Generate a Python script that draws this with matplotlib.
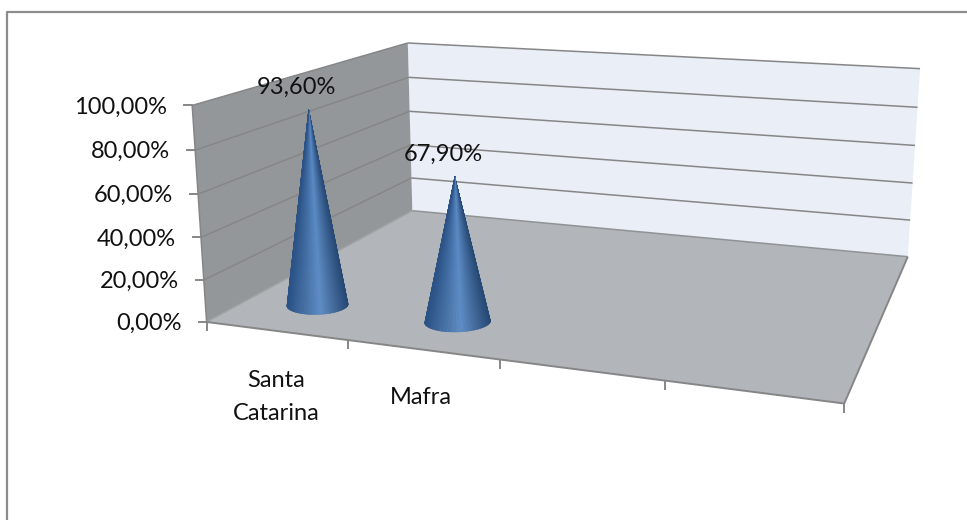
import numpy as np
import matplotlib
matplotlib.use('Agg')
import matplotlib.pyplot as plt
from matplotlib.collections import PolyCollection
from matplotlib.colors import LinearSegmentedColormap

categories = ['Santa\nCatarina', 'Mafra', '', '']
values = [93.6, 67.9]
value_labels = ['93,60%', '67,90%']
axis_values = [0, 20, 40, 60, 80, 100]
axis_labels = ['0,00%', '20,00%', '40,00%', '60,00%', '80,00%', '100,00%']

plt.rcParams['font.family'] = ['Lato', 'DejaVu Sans']
FONT = 17
LINE = '#868686'

# box corners (category, depth, value) and where they land on the canvas
box = [(0, 0, 0), (4, 0, 0), (0, 1, 0), (4, 1, 0), (0, 0, 100), (0, 1, 100), (4, 1, 100)]
canvas = [(207, 322), (844, 404), (412, 211), (908, 256), (192, 105), (408, 43), (920, 69)]


def fit_camera(pts3, pts2):
    rows = []
    rhs = []
    for (a, b, c), (u, v) in zip(pts3, pts2):
        rows.append([a, b, c, 1, 0, 0, 0, 0, -u*a, -u*b, -u*c])
        rows.append([0, 0, 0, 0, a, b, c, 1, -v*a, -v*b, -v*c])
        rhs += [u, v]
    p = np.linalg.lstsq(np.array(rows, float), np.array(rhs, float), rcond=None)[0]
    return np.append(p, 1.0).reshape(3, 4)


cam = fit_camera(box, canvas)


def project(cat, depth, val):
    h = cam @ np.array([cat, depth, val, 1.0])
    return h[0] / h[2], h[1] / h[2]


def quad(a, b, c, d, color):
    xy = [project(*a), project(*b), project(*c), project(*d)]
    ax.fill(*zip(*xy), color=color, lw=0, zorder=1)


def seg(a, b, lw=1.1, color=LINE):
    pa, pb = project(*a), project(*b)
    ax.plot([pa[0], pb[0]], [pa[1], pb[1]], color=color, lw=lw, zorder=2,
            solid_capstyle='butt')


fig = plt.figure(figsize=(9.67, 5.2), dpi=100)
ax = fig.add_axes([0, 0, 1, 1])
ax.set_xlim(0, 967)
ax.set_ylim(520, 0)
ax.axis('off')

# outer frame, only the top and left edges show
ax.plot([6.5, 6.5, 967], [520, 12, 12], color='#8c8c8c', lw=1.6, zorder=1)

quad((0, 1, 0), (4, 1, 0), (4, 1, 100), (0, 1, 100), '#e9eef7')
quad((0, 0, 0), (0, 1, 0), (0, 1, 100), (0, 0, 100), '#94979a')
quad((0, 0, 0), (4, 0, 0), (4, 1, 0), (0, 1, 0), '#b2b5b9')

for v in axis_values[1:]:
    seg((0, 0, v), (0, 1, v))
    seg((0, 1, v), (4, 1, v))
seg((0, 0, 0), (0, 1, 0), color='#a0a3a6')
seg((0, 1, 0), (4, 1, 0), color='#909396')
seg((0, 0, 0), (0, 0, 100))
seg((0, 0, 0), (4, 0, 0), lw=1.4)
seg((4, 0, 0), (4, 1, 0), lw=1.4)

# value axis ticks and labels
for v, lab in zip(axis_values, axis_labels):
    px, py = project(0, 0, v)
    ax.plot([px - 8, px], [py, py], color=LINE, lw=1.4, zorder=2)
    ax.text(px - 25, py + 1.5, lab, ha='right', va='center', fontsize=FONT, color='#111111')

# category ticks and labels
for i in range(len(categories) + 1):
    px, py = project(i, 0, 0)
    ax.plot([px, px], [py, py + 8], color=LINE, lw=1.4, zorder=2)
label_x = [276, 421]
label_y = [397, 398]
for name, lx, ly in zip(categories, label_x, label_y):
    ax.text(lx, ly, name, ha='center', va='center', fontsize=FONT, color='#111111',
            linespacing=1.75)

# cones, shaded as a fan of thin triangles from the tip to the base rim
shade = LinearSegmentedColormap.from_list('cone', [
    (0.0, '#2b5285'), (0.3, '#436fa6'), (0.55, '#5b8bc6'),
    (0.75, '#436c9f'), (1.0, '#264874')])
DEPTH = 0.18
RADIUS = 0.225
CENTER = 0.49

for i, v in enumerate(values):
    cx, cy = project(i + CENTER, DEPTH, 0)
    tx, ty = project(i + CENTER, DEPTH, v)
    x0, y0 = project(i, DEPTH, 0)
    x1, y1 = project(i + 1, DEPTH, 0)
    a = RADIUS * np.hypot(x1 - x0, y1 - y0)
    b = 0.31 * a
    t = np.linspace(0, np.pi, 121)
    rx = cx + a * np.cos(t)
    ry = cy + b * np.sin(t) - 0.03 * a * np.cos(t)
    tris = [[(tx, ty), (rx[k], ry[k]), (rx[k + 1], ry[k + 1])] for k in range(len(t) - 1)]
    cols = shade((1 + np.cos((t[:-1] + t[1:]) / 2)) / 2)
    ax.add_collection(PolyCollection(tris, facecolors=cols, edgecolors=cols, linewidths=0.3,
                                     zorder=3))
    ax.text(tx - 12, ty - 22, value_labels[i], ha='center', va='center', fontsize=FONT,
            color='#111111', zorder=4)

fig.savefig('out.png', dpi=100)
